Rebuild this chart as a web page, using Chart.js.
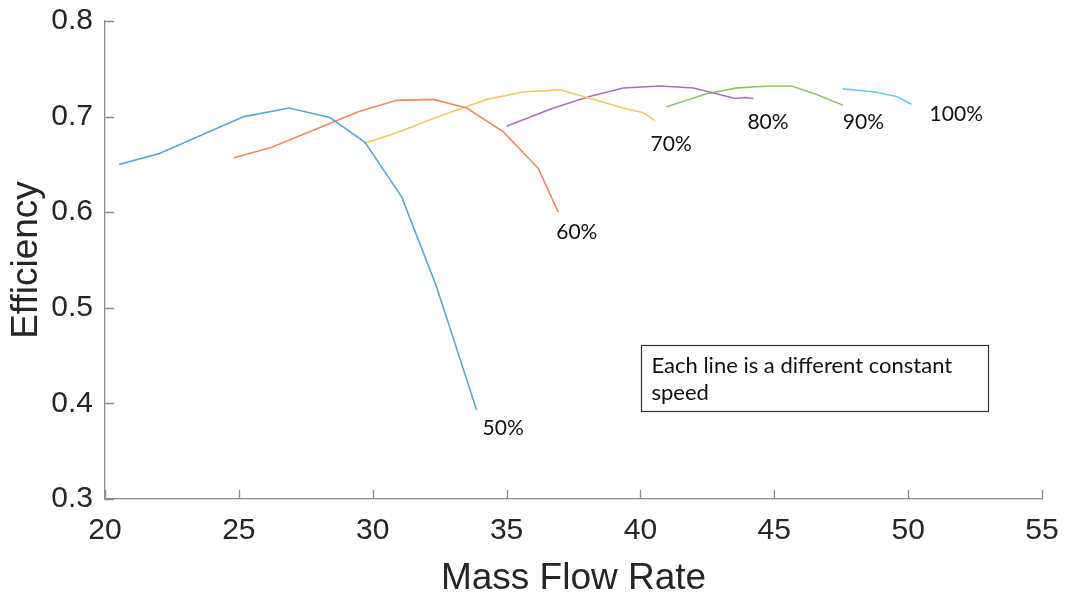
<!DOCTYPE html>
<html>
<head>
<meta charset="utf-8">
<script src="https://cdn.jsdelivr.net/npm/chart.js@4.4.1/dist/chart.umd.min.js"></script>
<style>
    html, body { margin: 0; padding: 0; background: #ffffff; }
    #wrap { width: 1068px; height: 598px; }
</style>
</head>
<body>
<div id="wrap"><canvas id="chart-speed" width="1068" height="598"></canvas></div>
<script>
// constant-speed lines: mass flow vs efficiency
const flow50 = [20.52, 21.99, 25.19, 26.88, 28.40, 29.71, 31.08, 32.36, 33.88];
const eff50  = [0.650, 0.661, 0.700, 0.709, 0.699, 0.673, 0.616, 0.524, 0.393];

const flow60 = [24.82, 26.23, 29.46, 30.90, 32.26, 33.51, 34.88, 36.18, 36.93];
const eff60  = [0.657, 0.668, 0.705, 0.717, 0.718, 0.709, 0.684, 0.646, 0.600];

const flow70 = [29.68, 30.90, 32.26, 33.36, 34.26, 35.69, 37.00, 38.00, 39.36, 40.11, 40.53];
const eff70  = [0.672, 0.683, 0.698, 0.709, 0.718, 0.726, 0.728, 0.720, 0.709, 0.704, 0.696];

const flow80 = [35.00, 36.75, 38.10, 39.36, 40.75, 41.98, 42.70, 43.53, 43.91, 44.22];
const eff80  = [0.690, 0.709, 0.721, 0.730, 0.732, 0.730, 0.725, 0.719, 0.720, 0.719];

const flow90 = [40.96, 42.47, 43.62, 44.84, 45.65, 46.58, 47.56];
const eff90  = [0.710, 0.724, 0.730, 0.732, 0.732, 0.723, 0.712];

const flow100 = [47.56, 48.70, 49.57, 50.13];
const eff100  = [0.729, 0.726, 0.721, 0.713];

const speedLabels = ['50%', '60%', '70%', '80%', '90%', '100%'];
const xTicks = [20, 25, 30, 35, 40, 45, 50, 55];
const yTicks = [0.3, 0.4, 0.5, 0.6, 0.7, 0.8];

const lineColors = ['#5aa7dc', '#ee8a68', '#f5c865', '#a671c2', '#92c462', '#66cdf2'];
// where each speed label sits relative to the line's last point (px)
const labelOffsets = [[6, 18], [-2, 20], [-4, 24], [-6, 24], [0, 17], [18, 10]];

const noteText = ['Each line is a different constant', 'speed'];
const noteBox = { x0: 40.02, x1: 52.98, y0: 0.461, y1: 0.392 };

const series = [
    [flow50, eff50], [flow60, eff60], [flow70, eff70],
    [flow80, eff80], [flow90, eff90], [flow100, eff100]
];

const toPoints = (xs, ys) => xs.map((x, i) => ({ x: x, y: ys[i] }));

const tickFont = { family: 'Liberation Sans, Arial, sans-serif', size: 30 };
const titleFont = { family: 'Liberation Sans, Arial, sans-serif', size: 37, lineHeight: 1.0 };
const textColor = '#262626';
const axisColor = '#8c8c8c';

// MATLAB style: short tick marks pointing into the plot area
const innerTicks = {
    id: 'innerTicks',
    afterDraw(chart) {
        const { ctx, chartArea, scales } = chart;
        ctx.save();
        ctx.strokeStyle = axisColor;
        ctx.lineWidth = 1.3;
        ctx.beginPath();
        xTicks.forEach(v => {
            const px = Math.round(scales.x.getPixelForValue(v)) + 0.5;
            ctx.moveTo(px, chartArea.bottom);
            ctx.lineTo(px, chartArea.bottom - 9);
        });
        yTicks.forEach(v => {
            const py = Math.round(scales.y.getPixelForValue(v)) + 0.5;
            ctx.moveTo(chartArea.left, py);
            ctx.lineTo(chartArea.left + 9, py);
        });
        ctx.stroke();
        ctx.restore();
    }
};

const speedTags = {
    id: 'speedTags',
    afterDatasetsDraw(chart) {
        const { ctx } = chart;
        ctx.save();
        ctx.font = '21px Lato, "Open Sans", sans-serif';
        ctx.fillStyle = '#111111';
        ctx.textAlign = 'left';
        ctx.textBaseline = 'middle';
        chart.data.datasets.forEach((ds, i) => {
            const meta = chart.getDatasetMeta(i);
            const last = meta.data[meta.data.length - 1];
            ctx.fillText(speedLabels[i], last.x + labelOffsets[i][0], last.y + labelOffsets[i][1]);
        });
        ctx.restore();
    }
};

const noteBoxPlugin = {
    id: 'noteBox',
    afterDraw(chart) {
        const { ctx, scales } = chart;
        const l = Math.round(scales.x.getPixelForValue(noteBox.x0)) + 0.5;
        const r = Math.round(scales.x.getPixelForValue(noteBox.x1)) + 0.5;
        const t = Math.round(scales.y.getPixelForValue(noteBox.y0)) + 0.5;
        const b = Math.round(scales.y.getPixelForValue(noteBox.y1)) + 0.5;
        ctx.save();
        ctx.fillStyle = '#ffffff';
        ctx.fillRect(l, t, r - l, b - t);
        ctx.strokeStyle = '#333333';
        ctx.lineWidth = 1.2;
        ctx.strokeRect(l, t, r - l, b - t);
        ctx.font = '22px Lato, "Open Sans", sans-serif';
        ctx.fillStyle = '#111111';
        ctx.textAlign = 'left';
        ctx.textBaseline = 'alphabetic';
        ctx.fillText(noteText[0], l + 10, t + 27);
        ctx.fillText(noteText[1], l + 10, t + 54);
        ctx.restore();
    }
};

// drop the half-label padding so the plot box spans the full axis range
const noEdgePadding = (s) => {
    s.paddingTop = 0;
    s.paddingBottom = 0;
    s.paddingLeft = 0;
    s.paddingRight = 0;
};

const ctx = document.getElementById('chart-speed').getContext('2d');

new Chart(ctx, {
    type: 'scatter',
    data: {
        datasets: series.map((s, i) => ({
            label: speedLabels[i],
            data: toPoints(s[0], s[1]),
            showLine: true,
            borderColor: lineColors[i],
            backgroundColor: lineColors[i],
            borderWidth: 1.6,
            pointRadius: 0,
            tension: 0
        }))
    },
    options: {
        responsive: false,
        animation: false,
        layout: { padding: { top: 21, right: 26, left: 0, bottom: 0 } },
        plugins: {
            legend: { display: false },
            tooltip: { enabled: false }
        },
        scales: {
            x: {
                type: 'linear',
                min: 20,
                max: 55,
                afterBuildTicks: (s) => { s.ticks = xTicks.map(v => ({ value: v })); },
                afterFit: (s) => { s.height = 99; noEdgePadding(s); },
                ticks: { color: textColor, font: tickFont, padding: 14, maxRotation: 0 },
                grid: { display: false, drawTicks: false },
                border: { display: true, color: axisColor, width: 1.3 },
                title: {
                    display: true,
                    text: 'Mass Flow Rate',
                    color: textColor,
                    font: titleFont,
                    padding: { top: 0, bottom: 1 }
                }
            },
            y: {
                type: 'linear',
                min: 0.3,
                max: 0.8,
                afterBuildTicks: (s) => { s.ticks = yTicks.map(v => ({ value: v })); },
                afterFit: (s) => { s.width = 105; noEdgePadding(s); },
                ticks: { color: textColor, font: tickFont, padding: 12 },
                grid: { display: false, drawTicks: false },
                border: { display: true, color: axisColor, width: 1.3 },
                title: {
                    display: true,
                    text: 'Efficiency',
                    color: textColor,
                    font: titleFont,
                    padding: { top: 8, bottom: 0 }
                }
            }
        }
    },
    plugins: [innerTicks, speedTags, noteBoxPlugin]
});
</script>
</body>
</html>
